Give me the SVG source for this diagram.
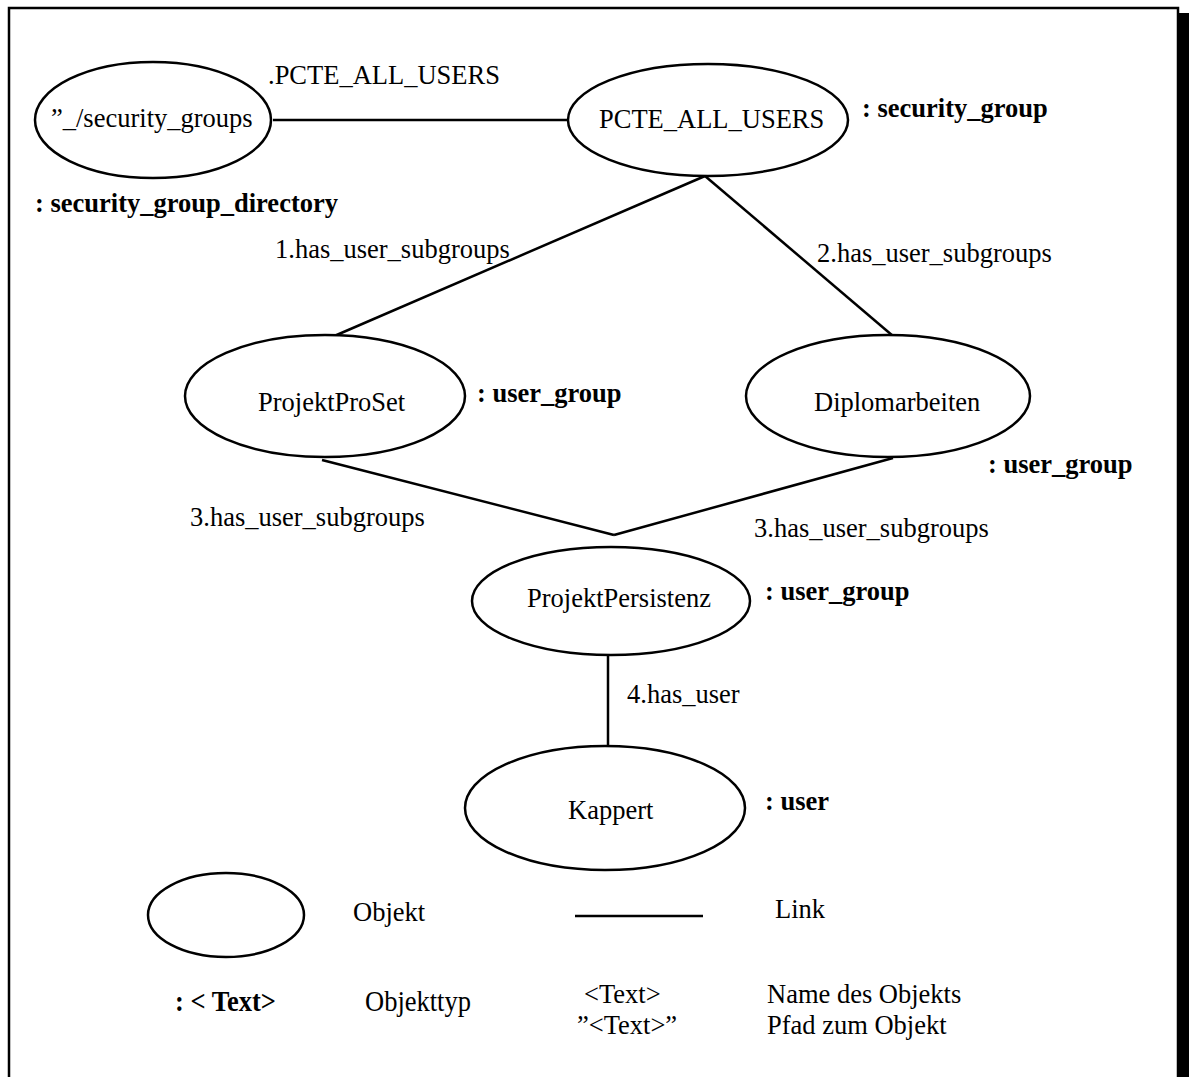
<svg xmlns="http://www.w3.org/2000/svg" width="1189" height="1077" viewBox="0 0 1189 1077">
  <style>
    .node { fill: #fff; stroke: #000; stroke-width: 2.5; }
    .link { stroke: #000; stroke-width: 2.5; fill: none; }
    .name { font-family: "Liberation Serif", "Times New Roman", serif; font-size: 26.5px; fill: #000; }
    .type { font-family: "Liberation Serif", "Times New Roman", serif; font-size: 26.5px; font-weight: bold; fill: #000; }
    .lbl { font-family: "Liberation Serif", "Times New Roman", serif; font-size: 26.5px; fill: #000; }
  </style>

  <rect width="1189" height="1077" fill="#fff"/>

  <!-- frame with drop shadow on the right -->
  <g id="frame">
    <rect x="1179" y="13" width="10" height="1064" fill="#000"/>
    <path d="M9 1077 V8 H1178 V1077" fill="none" stroke="#000" stroke-width="2.5"/>
  </g>

  <!-- links between objects -->
  <g id="connectors">
    <line class="link" x1="273" y1="120" x2="568" y2="120"/>
    <line class="link" x1="705" y1="176" x2="332" y2="337"/>
    <line class="link" x1="705" y1="176" x2="893" y2="336"/>
    <line class="link" x1="322" y1="460" x2="614" y2="535"/>
    <line class="link" x1="893" y1="458" x2="614" y2="535"/>
    <line class="link" x1="608" y1="655" x2="608" y2="746"/>
    <text class="lbl" x="268" y="84">.PCTE_ALL_USERS</text>
    <text class="lbl" x="275" y="258">1.has_user_subgroups</text>
    <text class="lbl" x="817" y="262">2.has_user_subgroups</text>
    <text class="lbl" x="190" y="526">3.has_user_subgroups</text>
    <text class="lbl" x="754" y="537">3.has_user_subgroups</text>
    <text class="lbl" x="627" y="703">4.has_user</text>
  </g>

  <g id="security_groups">
    <ellipse class="node" cx="153" cy="120" rx="118" ry="58"/>
    <text class="name" x="51" y="127">”_/security_groups</text>
    <text class="type" x="35" y="212">: security_group_directory</text>
  </g>

  <g id="pcte_all_users">
    <ellipse class="node" cx="708" cy="120" rx="140" ry="56"/>
    <text class="name" x="599" y="128">PCTE_ALL_USERS</text>
    <text class="type" x="862" y="117">: security_group</text>
  </g>

  <g id="projekt_pro_set">
    <ellipse class="node" cx="325" cy="396" rx="140" ry="61"/>
    <text class="name" x="258" y="411">ProjektProSet</text>
    <text class="type" x="477" y="402">: user_group</text>
  </g>

  <g id="diplomarbeiten">
    <ellipse class="node" cx="888" cy="396" rx="142" ry="61"/>
    <text class="name" x="814" y="411">Diplomarbeiten</text>
    <text class="type" x="988" y="473">: user_group</text>
  </g>

  <g id="projekt_persistenz">
    <ellipse class="node" cx="611" cy="601" rx="139" ry="54"/>
    <text class="name" x="527" y="607">ProjektPersistenz</text>
    <text class="type" x="765" y="600">: user_group</text>
  </g>

  <g id="kappert">
    <ellipse class="node" cx="605" cy="808" rx="140" ry="62"/>
    <text class="name" x="568" y="819">Kappert</text>
    <text class="type" x="765" y="810">: user</text>
  </g>

  <!-- legend: symbols and their meaning -->
  <g id="legend">
    <ellipse class="node" cx="226" cy="915" rx="78" ry="42"/>
    <text class="lbl" x="353" y="921">Objekt</text>
    <line class="link" x1="575" y1="916" x2="703" y2="916"/>
    <text class="lbl" x="775" y="918">Link</text>
    <text class="type" transform="translate(175 1011) scale(1 1.15)">: &lt; Text&gt;</text>
    <text class="lbl" transform="translate(365 1011) scale(1 1.15)">Objekttyp</text>
    <text class="lbl" x="584" y="1003">&lt;Text&gt;</text>
    <text class="lbl" x="577" y="1034">”&lt;Text&gt;”</text>
    <text class="lbl" x="767" y="1003">Name des Objekts</text>
    <text class="lbl" x="767" y="1034">Pfad zum Objekt</text>
  </g>
</svg>
